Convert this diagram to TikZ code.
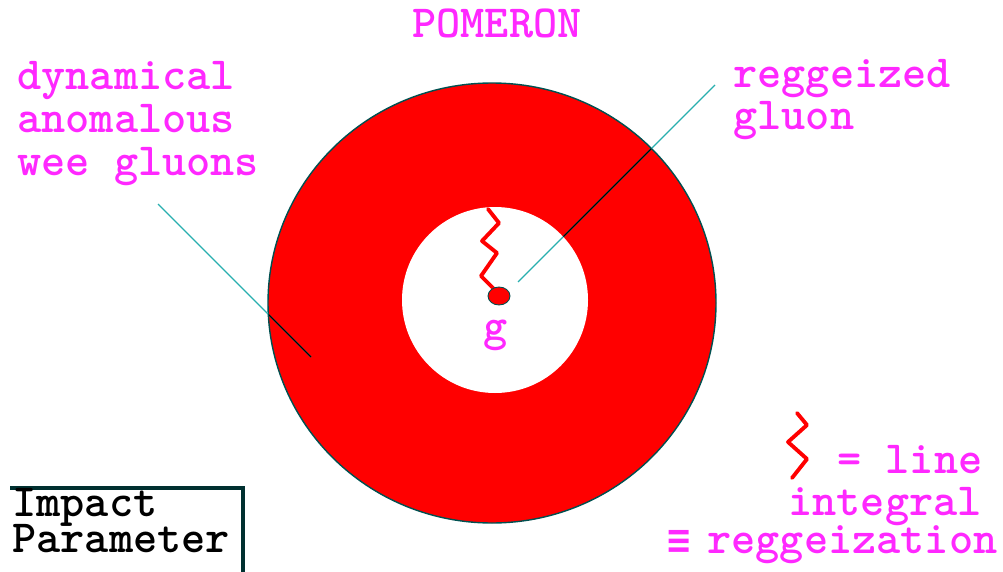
\documentclass[tikz,border=0pt]{standalone}
\usepackage{fontspec}
\newfontfamily\symfont{DejaVu Sans Mono}
\definecolor{pink}{RGB}{255,40,255}
\definecolor{ringred}{RGB}{255,0,0}
\definecolor{rim}{RGB}{0,80,80}
\definecolor{teal}{RGB}{40,175,175}
\begin{document}
\begin{tikzpicture}[
  x=0.02cm, y=-0.02cm,
  lbl/.style={inner sep=0pt, anchor=base west, align=left, text=pink,
              font=\ttfamily\bfseries\fontsize{26.2}{24.4}\selectfont},
  zig/.style={ringred, line width=2.2pt, line join=round, line cap=round},
  ptr/.style={line width=0.7pt}
]
\useasboundingbox (0,0) rectangle (1003,571);
% ring
\fill[ringred, draw=rim, line width=0.8pt] (492,303) ellipse [x radius=224, y radius=220];
\coordinate (weeA) at (158,204);
\coordinate (weeB) at (311,357);
\coordinate (rgA)  at (715,85);
\coordinate (rgB)  at (518,282);
\draw[ptr, teal] (weeA) -- (weeB);
\draw[ptr, teal] (rgA) -- (rgB);
\begin{scope}
  \clip (492,303) ellipse [x radius=224, y radius=220];
  \draw[ptr, black] (weeA) -- (weeB);
  \draw[ptr, black] (rgA) -- (rgB);
\end{scope}
\fill[white] (495,300) circle [radius=93];
\begin{scope}
  \clip (495,300) circle [radius=93];
  \draw[ptr, teal] (rgA) -- (rgB);
\end{scope}
% gluon
\draw[zig] (488,209) -- (499,223) -- (482,241) -- (497,253) -- (481,276) -- (497,292);
\fill[ringred, draw=rim, line width=0.5pt] (499,296) ellipse [x radius=11, y radius=9];
\node[lbl, anchor=base] (g) at (496,340) {g};
% labels (base = last line)
\node[lbl] (pom) at (412,38) {POMERON};
\node[lbl] (wee) at (17,175) {dynamical\\anomalous\\wee gluons};
\node[lbl] (rg)  at (733,130) {reggeized\\gluon};
% legend
\draw[zig] (797,413) -- (807,425) -- (788,442) -- (807,459) -- (792,478);
\node[lbl] (line) at (837,473) {= line};
\node[lbl] (intg) at (788,515) {integral};
\node[lbl] (regz) at (667,553) {\makebox[0.8cm][l]{\symfont\bfseries\fontsize{22}{24}\selectfont ≡}reggeization};
% impact parameter box
\draw[line width=2pt, rim!60!black] (10,488) -- (243,488) -- (243,600);
\node[lbl, text=black] (imp) at (12,552) {Impact\\[-4pt]Parameter};
\end{tikzpicture}
\end{document}
